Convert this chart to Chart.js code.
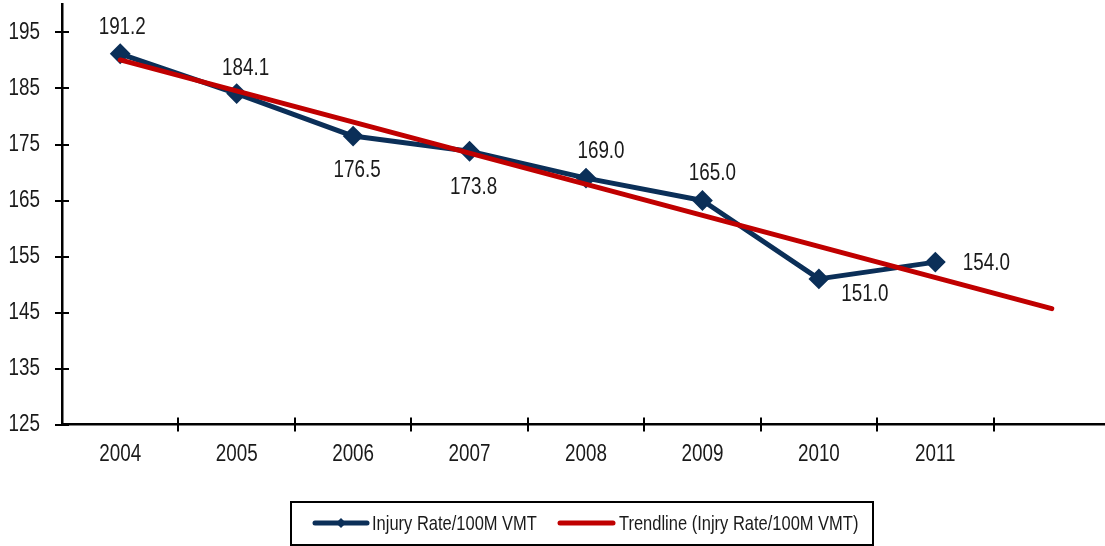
<!DOCTYPE html>
<html>
<head>
<meta charset="utf-8">
<script src="https://cdn.jsdelivr.net/npm/chart.js@4/dist/chart.umd.min.js"></script>
<style>
html,body{margin:0;padding:0;background:#fff;overflow:hidden;width:1105px;height:546px}
#wrap{position:absolute;left:0;top:0;width:1112px;height:546px}
</style>
</head>
<body>
<div id="wrap"><canvas id="c" width="1112" height="546"></canvas></div>
<script>
// ---- data ----
const years = ['2004','2005','2006','2007','2008','2009','2010','2011',''];
const injuryRate = [191.2,184.1,176.5,173.8,169.0,165.0,151.0,154.0,null];
const trendline  = [190.1,null,null,null,null,null,null,null,145.7];
const yTickValues = [125,135,145,155,165,175,185,195];
const seriesNames = ['Injury Rate/100M VMT','Trendline (Injry Rate/100M VMT)'];

// ---- style ----
const FONT = "'Liberation Sans',Arial,sans-serif";
const NARROW = 0.785; // horizontal squeeze to mimic a narrow typeface
const NAVY = '#0B2F58';
const RED = '#C00000';
const TEXT = '#1a1a1a';
const labelOffsets = [[2,-26],[9,-25],[4,34],[4,36],[15,-27],[10,-27],[46,15],[51,1]];

const canvas = document.getElementById('c');
const ctx2d = canvas.getContext('2d');
const origFillText = ctx2d.fillText.bind(ctx2d);
ctx2d.fillText = function(text, x, y, maxWidth){
  this.save();
  this.translate(x, y);
  this.scale(NARROW, 1);
  if (maxWidth === undefined) origFillText(text, 0, 0);
  else origFillText(text, 0, 0, maxWidth / NARROW);
  this.restore();
};

const crossTicks = {
  id:'crossTicks',
  afterDatasetsDraw(chart){
    const ctx = chart.ctx, ca = chart.chartArea;
    const xs = chart.scales.x, ys = chart.scales.y;
    ctx.save();
    ctx.strokeStyle = '#000'; ctx.lineWidth = 2;
    ys.ticks.forEach(t=>{
      const y = Math.round(ys.getPixelForValue(t.value));
      ctx.beginPath(); ctx.moveTo(ca.left-7,y); ctx.lineTo(ca.left+7,y); ctx.stroke();
    });
    const half = (xs.getPixelForValue(1)-xs.getPixelForValue(0))/2;
    for(let i=1;i<=years.length;i++){
      const x = Math.round(xs.getPixelForValue(i) - half);
      ctx.beginPath(); ctx.moveTo(x,ca.bottom-7); ctx.lineTo(x,ca.bottom+7); ctx.stroke();
    }
    ctx.restore();
  }
};

const dataLabels = {
  id:'dataLabels',
  afterDatasetsDraw(chart){
    const ctx = chart.ctx;
    const meta = chart.getDatasetMeta(0);
    ctx.save();
    ctx.font = '24px ' + FONT;
    ctx.fillStyle = TEXT;
    ctx.textAlign = 'center'; ctx.textBaseline = 'middle';
    meta.data.forEach((el,i)=>{
      const v = injuryRate[i];
      if(v==null) return;
      const o = labelOffsets[i];
      ctx.fillText(v.toFixed(1), el.x+o[0], el.y+o[1]);
    });
    ctx.restore();
  }
};

const boxLegend = {
  id:'boxLegend',
  afterDraw(chart){
    const ctx = chart.ctx;
    ctx.save();
    ctx.strokeStyle = '#000'; ctx.lineWidth = 2;
    ctx.strokeRect(291, 502, 582, 43);
    const cy = 523;
    ctx.strokeStyle = NAVY; ctx.lineWidth = 5; ctx.lineCap = 'round';
    ctx.beginPath(); ctx.moveTo(315,cy); ctx.lineTo(367,cy); ctx.stroke();
    ctx.fillStyle = NAVY;
    ctx.beginPath(); ctx.moveTo(341,cy-5); ctx.lineTo(346,cy); ctx.lineTo(341,cy+5); ctx.lineTo(336,cy); ctx.closePath(); ctx.fill();
    ctx.strokeStyle = RED;
    ctx.beginPath(); ctx.moveTo(560,cy); ctx.lineTo(613,cy); ctx.stroke();
    ctx.font = '21px ' + FONT;
    ctx.fillStyle = TEXT; ctx.textAlign = 'left'; ctx.textBaseline = 'middle';
    ctx.fillText(seriesNames[0], 372, cy+1);
    ctx.fillText(seriesNames[1], 619, cy+1);
    ctx.restore();
  }
};

new Chart(canvas, {
  type:'line',
  data:{
    labels: years,
    datasets:[
      {
        label: seriesNames[0], data: injuryRate, order: 1,
        borderColor: NAVY, backgroundColor: NAVY, borderWidth: 5,
        pointStyle: 'rectRot', pointRadius: 9, pointBorderWidth: 2,
        pointBackgroundColor: NAVY, pointBorderColor: NAVY,
        tension: 0, borderJoinStyle: 'round'
      },
      {
        label: seriesNames[1], data: trendline, order: 0, spanGaps: true,
        borderColor: RED, backgroundColor: RED, borderWidth: 5,
        pointRadius: 0, borderCapStyle: 'round', tension: 0
      }
    ]
  },
  options:{
    responsive:false, animation:false,
    layout:{autoPadding:false, padding:{left:0,right:2,top:4.5,bottom:71.5}},
    plugins:{legend:{display:false}, tooltip:{enabled:false}},
    scales:{
      x:{
        type:'category', offset:true,
        grid:{display:false, offset:true, drawTicks:false},
        border:{display:true, color:'#000', width:2.5},
        ticks:{color:TEXT, font:{family:FONT,size:24}, padding:15, maxRotation:0, autoSkip:false},
        afterFit(s){ s.height = 50; s.paddingLeft = 0; s.paddingRight = 0; }
      },
      y:{
        min:125, max:200,
        grid:{display:false, drawTicks:false},
        border:{display:true, color:'#000', width:2.5},
        ticks:{color:TEXT, font:{family:FONT,size:24}, padding:22},
        afterBuildTicks(s){ s.ticks = yTickValues.map(v=>({value:v})); },
        afterFit(s){ s.width = 62; s.paddingTop = 0; s.paddingBottom = 0; }
      }
    }
  },
  plugins:[crossTicks, dataLabels, boxLegend]
});
</script>
</body>
</html>
